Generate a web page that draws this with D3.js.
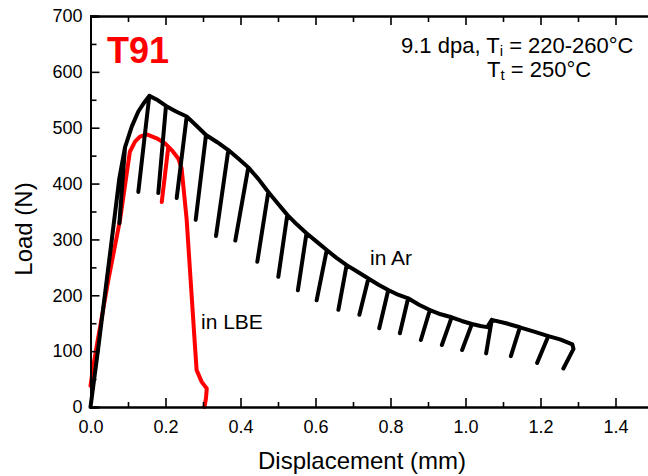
<!DOCTYPE html>
<html><head><meta charset="utf-8">
<script src="https://cdn.jsdelivr.net/npm/d3@7"></script>
<style>body{margin:0;background:#fff}svg{display:block}text{font-family:"Liberation Sans",Arial,sans-serif}</style>
</head><body>
<script>
// ----- data -----
const xTicks = [0.0,0.2,0.4,0.6,0.8,1.0,1.2,1.4];
const yTicks = [0,100,200,300,400,500,600,700];
// black curve "in Ar" (envelope with partial unloadings), in drawing order
const arDisp = [0,0.02,0.0432,0.055,0.066,0.077,0.092,0.077,0.092,0.11,0.1275,0.1453,0.1568,0.1275,0.1568,0.18,0.2013,0.1808,0.2013,0.228,0.2565,0.2299,0.2565,0.282,0.308,0.2805,0.308,0.338,0.3675,0.3347,0.3675,0.394,0.4208,0.3861,0.4208,0.448,0.4741,0.4448,0.4741,0.50,0.5248,0.5008,0.5248,0.55,0.576,0.553,0.576,0.603,0.63,0.603,0.63,0.656,0.683,0.661,0.683,0.712,0.741,0.717,0.741,0.768,0.794,0.770,0.794,0.82,0.847,0.825,0.847,0.876,0.905,0.881,0.905,0.934,0.963,0.937,0.963,0.99,1.017,0.991,1.017,1.04,1.058,1.07,1.055,1.07,1.108,1.145,1.121,1.145,1.183,1.221,1.191,1.221,1.252,1.285,1.288,1.261];
const arLoad = [0,102,227,290,350,410,465,329,465,502,529,547,557,385,557,549,539,383,539,529,520,374,520,504,487,335,487,474,460,306,460,445,429,298,429,408,385,260,385,364,344,233,344,327,311,209,311,296,281,191,281,267,254,174,254,242,230,165,230,219,209.5,141,209.5,201,194.6,132,194.6,183,173.6,120,173.6,166,160.6,111,160.6,154,148.6,102,148.6,145,143,156,96,156,150,142.7,91,142.7,135,127,79,127,121,112,104,69];
// red curve "in LBE"
const lbeDisp = [0,0.008,0.0147,0.0475,0.0787,0.105,0.1187,0.132,0.15,0.1765,0.1987,0.2075,0.19,0.2075,0.2165,0.234,0.243,0.2565,0.267,0.274,0.2787,0.283,0.2965,0.31,0.308,0.304];
const lbeLoad = [38,75,102,227,335,457,475,484,488,481,472,466,367,466,460,445,427,335,227,156,108,66,45,33,16,0];

// ----- layout -----
const W = 648, H = 476;
const svg = d3.select("body").append("svg").attr("width", W).attr("height", H);
const x = d3.scaleLinear().domain([0,1.5]).range([90.5,653]);
const y = d3.scaleLinear().domain([0,700]).range([407,16]);

const line = d3.line().x(d=>x(d[0])).y(d=>y(d[1]));
const arPts = arDisp.map((d,i)=>[d,arLoad[i]]);
const lbePts = lbeDisp.map((d,i)=>[d,lbeLoad[i]]);

// curves
svg.append("path").attr("d", line(lbePts)).attr("fill","none").attr("stroke","#ff0000")
  .attr("stroke-width",4).attr("stroke-linejoin","round").attr("stroke-linecap","round");
svg.append("path").attr("d", line(arPts)).attr("fill","none").attr("stroke","#000")
  .attr("stroke-width",4).attr("stroke-linejoin","round").attr("stroke-linecap","round");

// axes
const minorX = d3.range(0,15).map(i=>i/10).filter(v=>Math.round(v*10)%2===1);
const minorY = d3.range(50,700,100);
const ax = svg.append("g");
const gBottom = ax.append("g").attr("transform",`translate(0,${y(0)})`)
  .call(d3.axisBottom(x).tickValues(xTicks).tickSize(-9).tickPadding(13).tickFormat(d3.format(".1f")));
ax.append("g").attr("transform",`translate(0,${y(0)})`)
  .call(d3.axisBottom(x).tickValues(minorX).tickSize(-5).tickFormat(""));
ax.append("g").attr("transform",`translate(0,${y(700)})`)
  .call(d3.axisTop(x).tickValues(xTicks).tickSize(-9).tickFormat(""));
ax.append("g").attr("transform",`translate(0,${y(700)})`)
  .call(d3.axisTop(x).tickValues(minorX).tickSize(-6).tickFormat(""));
ax.append("g").attr("transform",`translate(${x(0)},0)`)
  .call(d3.axisLeft(y).tickValues(yTicks).tickSize(-9).tickPadding(8).tickFormat(d3.format("d")));
ax.append("g").attr("transform",`translate(${x(0)},0)`)
  .call(d3.axisLeft(y).tickValues(minorY).tickSize(-6).tickFormat(""));
ax.selectAll(".domain").attr("stroke","#000").attr("stroke-width",2);
ax.selectAll(".tick line").attr("stroke","#000").attr("stroke-width",1.6);
ax.selectAll(".tick text").attr("font-size",18).attr("fill","#000").attr("font-family","'Liberation Sans',Arial,sans-serif");
gBottom.selectAll(".tick text").attr("dy","0.71em");
// right frame (outside window)
ax.append("line").attr("x1",x(1.5)).attr("x2",x(1.5)).attr("y1",y(0)).attr("y2",y(700)).attr("stroke","#000").attr("stroke-width",2);

// titles
svg.append("text").attr("x",362).attr("y",469).attr("text-anchor","middle").attr("font-size",24).text("Displacement (mm)");
svg.append("text").attr("transform","translate(32,229) rotate(-90)").attr("text-anchor","middle").attr("font-size",24).text("Load (N)");

// annotations
svg.append("text").attr("x",107).attr("y",63).attr("font-size",36).attr("font-weight","bold").attr("fill","#ff0000").text("T91");
const t1 = svg.append("text").attr("x",401).attr("y",53).attr("font-size",22);
t1.append("tspan").text("9.1 dpa, T");
t1.append("tspan").attr("font-size",15).attr("dy",3).text("i");
t1.append("tspan").attr("dy",-3).text(" = 220-260°C");
const t2 = svg.append("text").attr("x",487).attr("y",77).attr("font-size",22);
t2.append("tspan").text("T");
t2.append("tspan").attr("font-size",15).attr("dy",3).text("t");
t2.append("tspan").attr("dy",-3).text(" = 250°C");
svg.append("text").attr("x",370).attr("y",265).attr("font-size",21).text("in Ar");
svg.append("text").attr("x",201).attr("y",329).attr("font-size",21).text("in LBE");
</script>
</body></html>
